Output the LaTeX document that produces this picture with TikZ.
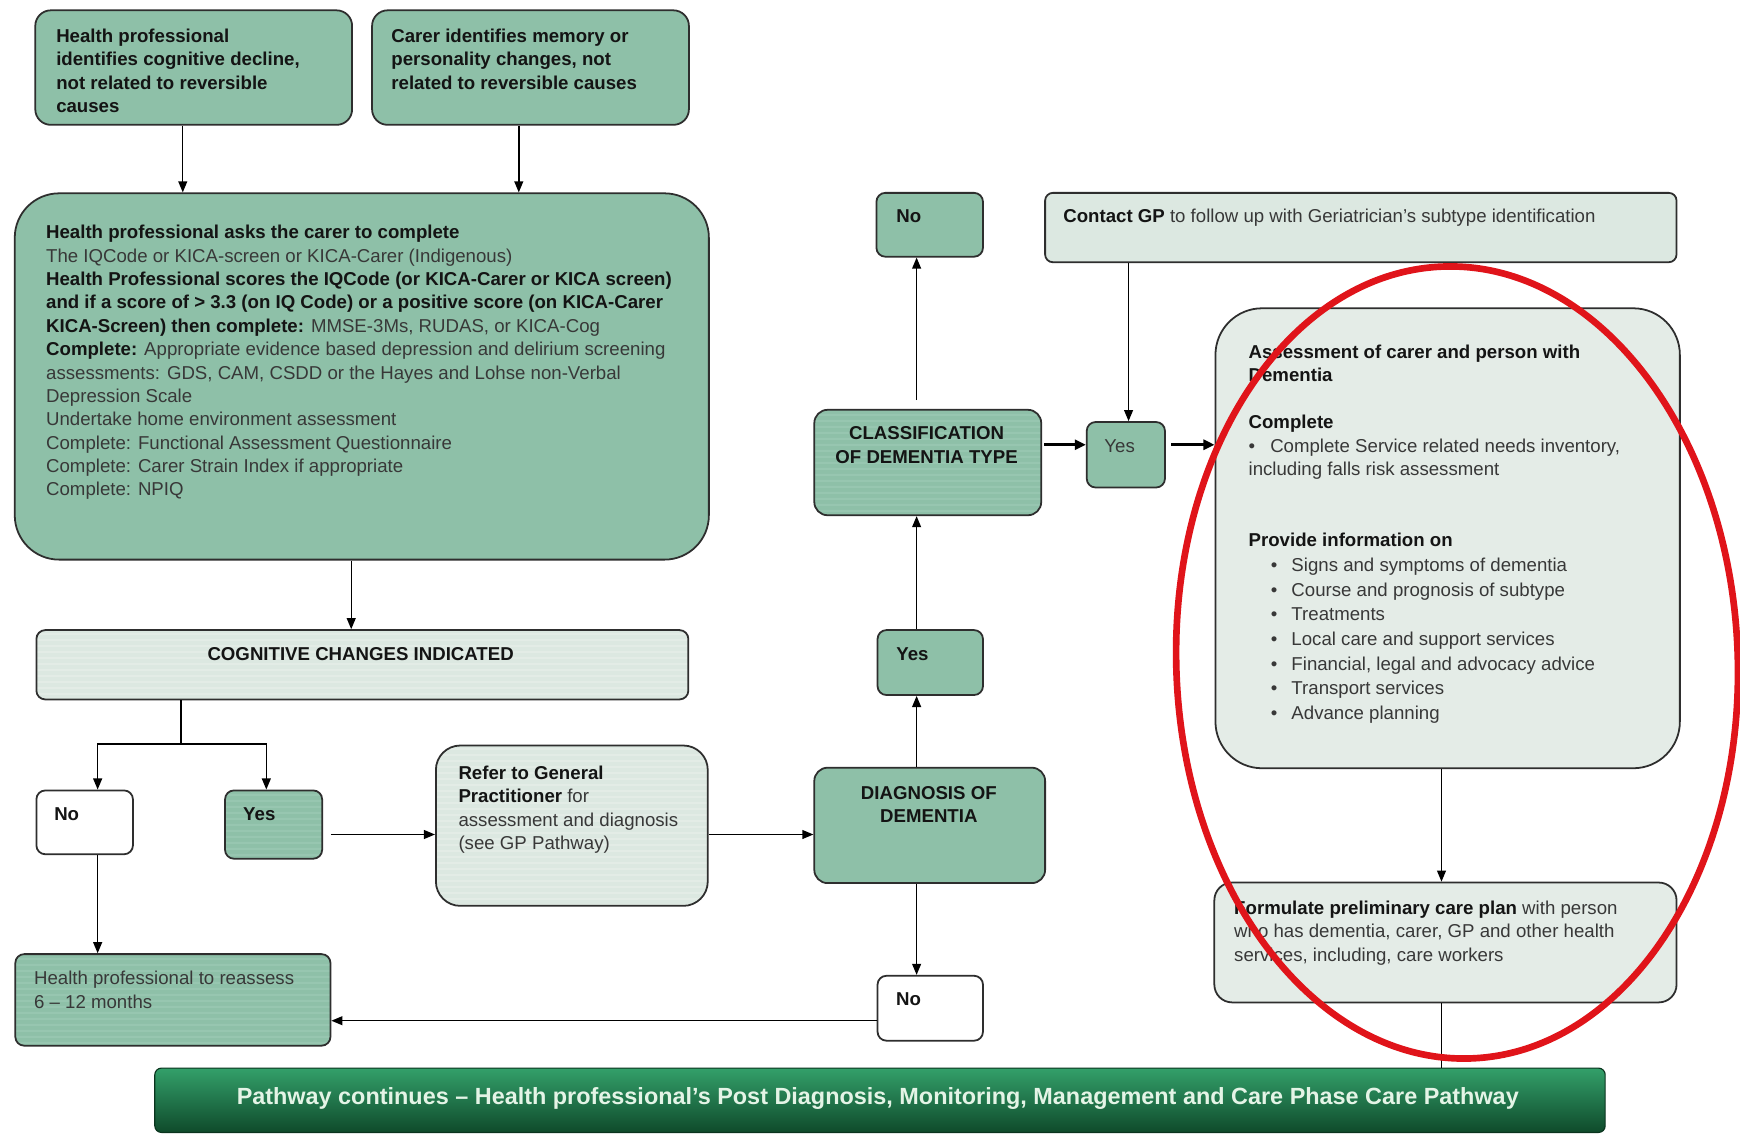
\documentclass[tikz,border=0pt]{standalone}
\usepackage{fontspec}
\setmainfont{Liberation Sans}
\usetikzlibrary{arrows.meta,patterns,calc}
\definecolor{gmid}{HTML}{8EC0A8}
\definecolor{gstripe}{HTML}{9DCAB5}
\definecolor{glight}{HTML}{DCE8E1}
\definecolor{glstripe}{HTML}{E7EFEA}
\definecolor{gpale}{HTML}{E4ECE7}
\definecolor{bordc}{HTML}{2E2E2E}
\definecolor{txtc}{HTML}{383838}
\definecolor{boldc}{HTML}{141414}
\definecolor{bartop}{HTML}{33A06A}
\definecolor{barbot}{HTML}{0F4A2B}
\definecolor{bartxt}{HTML}{E4F4E6}
\definecolor{redc}{HTML}{E0141A}
\pgfdeclarepatternformonly{hstripes}{\pgfpointorigin}{\pgfpoint{1pt}{5pt}}{\pgfpoint{1pt}{5pt}}{%
  \pgfpathrectangle{\pgfpointorigin}{\pgfpoint{1pt}{2pt}}\pgfusepath{fill}}
\newcommand\bx[6]{\node[#6,anchor=north west,inner sep=0pt,minimum width={(#4-#2)*1pt},minimum height={(#5-#3)*1pt}] (#1) at (#2,#3) {};}
\newcommand\bb[1]{\textbf{\color{boldc}#1}}
\begin{document}
\begin{tikzpicture}[x=1pt,y=-1pt,
  every node/.style={font=\fontsize{16.8}{21.2}\selectfont, text=txtc},
  box/.style={draw=bordc, line width=1.6pt},
  greenbox/.style={box, fill=gmid},
  greenstripe/.style={box, preaction={fill=gmid}, pattern=hstripes, pattern color=gstripe},
  lightbox/.style={box, fill=glight},
  lightstripe/.style={box, preaction={fill=glight}, pattern=hstripes, pattern color=glstripe},
  whitebox/.style={box, fill=white},
  txt/.style={anchor=north west, inner sep=0pt, align=left},
  ctxt/.style={anchor=north, inner sep=0pt, align=center},
  arr/.style={draw=black, line width=1.3pt, -{Triangle[length=10pt,width=8pt]}},
  thickarr/.style={draw=black, line width=2.6pt, -{Triangle[length=10pt,width=9pt]}},
  plain/.style={draw=black, line width=1.3pt}
]
\useasboundingbox (0,0) rectangle (1568,1021);
\fill[white] (0,0) rectangle (1568,1021);

% boxes
\bx{A}{31}{8.5}{316.5}{111.7}{greenbox,rounded corners=14pt}
\bx{B}{334.5}{8.5}{620}{111.7}{greenbox,rounded corners=14pt}
\bx{C}{12.5}{173.4}{638}{503.5}{greenbox,rounded corners=40pt}
\bx{D}{32}{567}{619.5}{629.5}{lightstripe,rounded corners=8pt}
\bx{E}{32}{711.5}{119}{769}{whitebox,rounded corners=8pt}
\bx{F}{202}{711.5}{289.5}{773}{greenstripe,rounded corners=8pt}
\bx{G}{392}{671}{637}{815.5}{lightstripe,rounded corners=22pt}
\bx{H}{733}{691}{941}{795}{greenbox,rounded corners=12pt}
\bx{I}{790}{567}{885}{625.5}{greenbox,rounded corners=8pt}
\bx{J}{733}{368.5}{937.5}{463.5}{greenstripe,rounded corners=12pt}
\bx{K}{789}{173}{885}{230.5}{greenbox,rounded corners=8pt}
\bx{L}{941}{173}{1510}{235.5}{lightbox,rounded corners=7pt}
\bx{M}{978.5}{379.5}{1049}{438.5}{greenbox,rounded corners=8pt}
\bx{N}{1094.5}{277}{1513}{691.5}{box,fill=gpale,rounded corners=42pt}
\bx{O}{1093.5}{794.5}{1510}{902.5}{box,fill=gpale,rounded corners=16pt}
\bx{Q}{13}{859}{297}{941.5}{greenstripe,rounded corners=8pt}
\bx{R}{790}{878.5}{885}{937}{whitebox,rounded corners=8pt}
\node[anchor=north west, inner sep=0pt, draw=barbot!70!black, line width=1pt,
  top color=bartop, bottom color=barbot, rounded corners=6pt,
  minimum width=1307pt, minimum height=58pt] (P) at (139,962) {};

% texts
\node[txt] (At) at (50.5,25.8) {\bb{Health professional}\\\bb{identifies cognitive decline,}\\\bb{not related to reversible}\\\bb{causes}};
\node[txt] (Bt) at (352.5,25.8) {\bb{Carer identifies memory or}\\\bb{personality changes, not}\\\bb{related to reversible causes}};
\node[txt, font=\fontsize{16.8}{21.07}\selectfont] (Ct) at (41.4,202.8) {%
\bb{Health professional asks the carer to complete}\\
The IQCode or KICA-screen or KICA-Carer (Indigenous)\\
\bb{Health Professional scores the IQCode (or KICA-Carer or KICA screen)}\\
\bb{and if a score of > 3.3 (on IQ Code) or a positive score (on KICA-Carer}\\
\bb{KICA-Screen) then complete:} MMSE-3Ms, RUDAS, or KICA-Cog\\
\bb{Complete:} Appropriate evidence based depression and delirium screening\\
assessments: GDS, CAM, CSDD or the Hayes and Lohse non-Verbal\\
Depression Scale\\
Undertake home environment assessment\\
Complete: Functional Assessment Questionnaire\\
Complete: Carer Strain Index if appropriate\\
Complete: NPIQ};
\node[anchor=center, inner sep=0pt] (Dt) at (325,589.6) {\bb{COGNITIVE CHANGES INDICATED}};
\node[txt] (Et) at (48.7,727.3) {\bb{No}};
\node[txt] (Ft) at (219,727.3) {\bb{Yes}};
\node[txt] (Gt) at (413,689.9) {\bb{Refer to General}\\\bb{Practitioner} for\\assessment and diagnosis\\(see GP Pathway)};
\node[ctxt] (Ht) at (837,708.2) {\bb{DIAGNOSIS OF}\\\bb{DEMENTIA}};
\node[txt] (It) at (807.6,583) {\bb{Yes}};
\node[ctxt] (Jt) at (835,384.5) {\bb{CLASSIFICATION}\\\bb{OF DEMENTIA TYPE}};
\node[txt] (Kt) at (807.6,188.5) {\bb{No}};
\node[txt] (Rt) at (807.4,894.3) {\bb{No}};
\node[txt] (Lt) at (958,188.5) {\bb{Contact GP} to follow up with Geriatrician's subtype identification};
\node[anchor=center, inner sep=0pt] (Mt) at (1009,402) {Yes};
\node[txt] (Nt) at (1125,310.5) {%
\bb{Assessment of carer and person with}\\
\bb{Dementia}\\[21.2pt]
\bb{Complete}\\
\makebox[19.5pt][l]{•}Complete Service related needs inventory,\\
including falls risk assessment\\[42.4pt]
\bb{Provide information on}\\[1.1pt]
\makebox[38.6pt][l]{\hspace*{20pt}•}Signs and symptoms of dementia\\[1.1pt]
\makebox[38.6pt][l]{\hspace*{20pt}•}Course and prognosis of subtype\\[1.1pt]
\makebox[38.6pt][l]{\hspace*{20pt}•}Treatments\\[1.1pt]
\makebox[38.6pt][l]{\hspace*{20pt}•}Local care and support services\\[1.1pt]
\makebox[38.6pt][l]{\hspace*{20pt}•}Financial, legal and advocacy advice\\[1.1pt]
\makebox[38.6pt][l]{\hspace*{20pt}•}Transport services\\[1.1pt]
\makebox[38.6pt][l]{\hspace*{20pt}•}Advance planning};
\node[txt] (Ot) at (1112,811.5) {\bb{Formulate preliminary care plan} with person\\who has dementia, carer, GP and other health\\services, including, care workers};
\node[txt] (Qt) at (30.5,874.9) {Health professional to reassess\\6 -- 12 months};
\node[anchor=base, inner sep=0pt, font=\bfseries\fontsize{21.1}{24}\selectfont, text=bartxt] (Pt) at (791,995.5) {Pathway continues -- Health professional's Post Diagnosis, Monitoring, Management and Care Phase Care Pathway};

% connector columns / rows
\coordinate (xa) at (164.7,0);
\coordinate (xb) at (467.5,0);
\coordinate (xc) at (316.5,0);
\coordinate (xe) at (88,0);
\coordinate (xf) at (240,0);
\coordinate (xh) at (826,0);
\coordinate (xl) at (1017,0);
\coordinate (xn) at (1299,0);
\coordinate (yg) at (0,752);
\coordinate (yj) at (0,400.8);
\coordinate (yr) at (0,919.8);
\coordinate (split) at (163,670.5);

\draw[arr] (A.south -| xa) -- (C.north -| xa);
\draw[arr] (B.south -| xb) -- (C.north -| xb);
\draw[arr] (C.south -| xc) -- (D.north -| xc);
\draw[plain] (D.south -| split) -- (split);
\draw[arr] (split) -| (E.north -| xe);
\draw[arr] (split) -| (F.north -| xf);
\draw[arr] ([xshift=7pt]F.east |- yg) -- (G.west |- yg);
\draw[arr] (G.east |- yg) -- (H.west |- yg);
\draw[arr] (H.north -| xh) -- (I.south -| xh);
\draw[arr] (I.north -| xh) -- (J.south -| xh);
\draw[arr] ([yshift=8pt]J.north -| xh) -- (K.south -| xh);
\draw[arr] (L.south -| xl) -- (M.north -| xl);
\draw[thickarr] ([xshift=2pt]J.east |- yj) -- (M.west |- yj);
\draw[thickarr] ([xshift=5pt]M.east |- yj) -- (N.west |- yj);
\draw[arr] (N.south -| xn) -- (O.north -| xn);
\draw[plain] (O.south -| xn) -- (P.north -| xn);
\draw[arr] (E.south -| xe) -- (Q.north -| xe);
\draw[arr] (H.south -| xh) -- (R.north -| xh);
\draw[arr] (R.west |- yr) -- (Q.east |- yr);

% red highlight ellipse
\draw[redc, line width=6pt] (1313,597) ellipse [x radius=253, y radius=357, rotate=2];
\end{tikzpicture}
\end{document}
